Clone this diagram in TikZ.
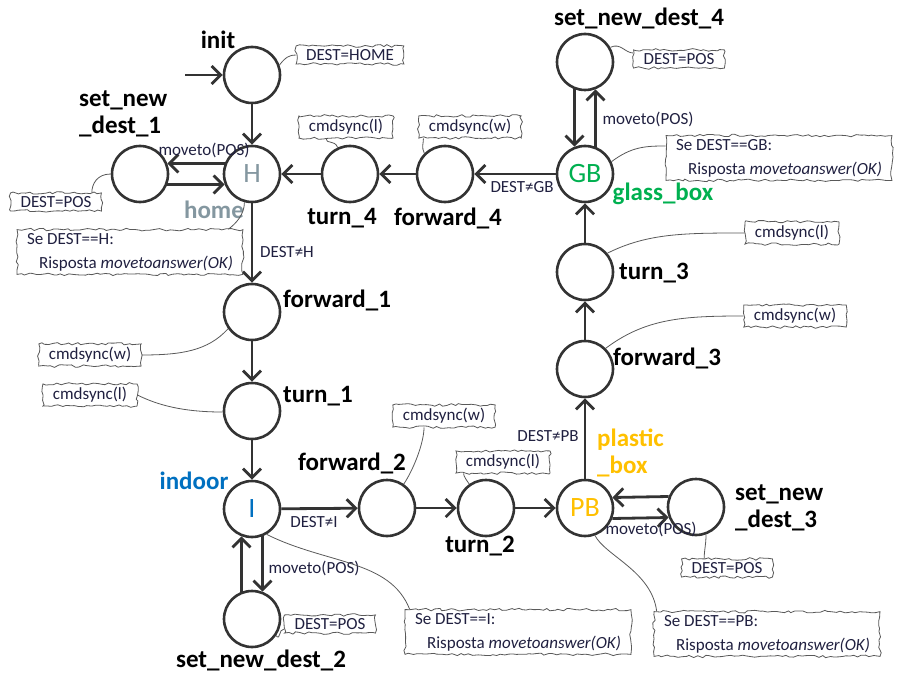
\documentclass[tikz,border=0pt]{standalone}
\usepackage{fontspec}
\setmainfont{Carlito}
\usetikzlibrary{decorations.pathmorphing, arrows.meta}

\definecolor{edgegray}{HTML}{333333}
\definecolor{notegray}{HTML}{595959}
\definecolor{notetext}{HTML}{202040}
\definecolor{homegray}{HTML}{8497A0}
\definecolor{glassgreen}{HTML}{00B050}
\definecolor{plasticorange}{HTML}{FFC000}
\definecolor{indoorblue}{HTML}{0070C0}

\begin{document}
\begin{tikzpicture}[x=1pt, y=-1pt,
    state/.style={circle, draw=edgegray, line width=2.6pt, minimum size=56pt, inner sep=0pt, fill=white, font=\fontsize{28}{28}\selectfont},
    statename/.style={font=\fontsize{25}{27}\selectfont\bfseries, align=left, inner sep=0pt},
    notebox/.style={draw=notegray, line width=0.8pt, decorate, decoration={random steps, segment length=4pt, amplitude=1.3pt}, font=\fontsize{17}{24}\selectfont, text=notetext, inner xsep=10pt, inner ysep=3.5pt, align=left, fill=white},
    notelink/.style={draw=notegray, line width=0.8pt},
    trans/.style={draw=edgegray, line width=2.8pt, -{Straight Barb[length=9pt, width=18pt]}},
    trlabel/.style={font=\fontsize{17}{20}\selectfont, text=notetext, inner sep=0pt}]
      \pgfmathsetseed{7}
      \useasboundingbox (0,0) rectangle (920,676);

      % states
      \coordinate (start) at (185,75);
      \node[state] (init) at (252,75) {};
      \node[state] (H) at (252,174) {\color{homegray}H};
      \node[state] (sd1) at (140,174) {};
      \node[state] (t4) at (350,174) {};
      \node[state] (f4) at (445,174) {};
      \node[state] (GB) at (585,174) {\color{glassgreen}GB};
      \node[state] (sd4) at (585,62) {};
      \node[state] (t3) at (585,272) {};
      \node[state] (f3) at (585,369) {};
      \node[state] (PB) at (585,508) {\color{plasticorange}PB};
      \node[state] (sd3) at (696,507) {};
      \node[state] (t2) at (486,508) {};
      \node[state] (f2) at (387,508) {};
      \node[state] (I) at (252,509) {\color{indoorblue}I};
      \node[state] (sd2) at (252,619) {};
      \node[state] (t1) at (252,411) {};
      \node[state] (f1) at (252,312) {};

      % state names
      \node[statename] (lInit) at (218,40) {init};
      \node[statename, anchor=west] (lSd1) at (79,114) {set\_new\\\_dest\_1};
      \node[statename, text=homegray] (lHome) at (214,210) {home};
      \node[statename] (lT4) at (342,218) {turn\_4};
      \node[statename] (lF4) at (448,218) {forward\_4};
      \node[statename] (lSd4) at (639,18) {set\_new\_dest\_4};
      \node[statename, text=glassgreen] (lGB) at (663,194) {glass\_box};
      \node[statename, anchor=west] (lT3) at (619,273) {turn\_3};
      \node[statename, anchor=west] (lF3) at (613,358) {forward\_3};
      \node[statename, anchor=west] (lF1) at (283,300) {forward\_1};
      \node[statename, anchor=west] (lT1) at (283,396) {turn\_1};
      \node[statename, text=indoorblue] (lI) at (194,481) {indoor};
      \node[statename] (lF2) at (352,463) {forward\_2};
      \node[statename] (lT2) at (480,546) {turn\_2};
      \node[statename, text=plasticorange, anchor=west] (lPB) at (597,453) {plastic\\\_box};
      \node[statename, anchor=west] (lSd3) at (735,508) {set\_new\\\_dest\_3};
      \node[statename] (lSd2) at (261,660) {set\_new\_dest\_2};

      % transitions
      \draw[trans] (start) -- (init);
      \draw[trans] (init) -- (H);
      \draw[trans] (H.159) -- (sd1.21);
      \draw[trans] (sd1.-21) -- (H.201);
      \draw[trans] (t4) -- (H);
      \draw[trans] (f4) -- (t4);
      \draw[trans] (GB) -- (f4);
      \draw[trans] (sd4.249) -- (GB.111);
      \draw[trans] (GB.69) -- (sd4.291);
      \draw[trans] (t3) -- (GB);
      \draw[trans] (f3) -- (t3);
      \draw[trans] (PB) -- (f3);
      \draw[trans] (sd3.159) -- (PB.21);
      \draw[trans] (PB.-21) -- (sd3.201);
      \draw[trans] (t2) -- (PB);
      \draw[trans] (f2) -- (t2);
      \draw[trans] (I) -- (f2);
      \draw[trans] (sd2.111) -- (I.249);
      \draw[trans] (I.291) -- (sd2.69);
      \draw[trans] (H) -- (f1);
      \draw[trans] (f1) -- (t1);
      \draw[trans] (t1) -- (I);

      % transition labels
      \node[trlabel] (cH1) at (204,150) {moveto(POS)};
      \node[trlabel] (cH) at (287,252) {DEST≠H};
      \node[trlabel] (cGB) at (522,187) {DEST≠GB};
      \node[trlabel] (cGB1) at (648,119) {moveto(POS)};
      \node[trlabel] (cPB) at (548,436) {DEST≠PB};
      \node[trlabel] (cI) at (314,522) {DEST≠I};
      \node[trlabel] (cI1) at (314,568) {moveto(POS)};
      \node[trlabel] (cPB1) at (651,529) {moveto(POS)};

      % notes and their links
      \node[notebox] (nHome) at (350,55) {DEST=HOME};
      \node[notebox] (nT4) at (346,127) {cmdsync(l)};
      \node[notebox] (nF4) at (470,127) {cmdsync(w)};
      \node[notebox] (nSd1) at (56,202) {DEST=POS};
      \node[notebox] (nH) at (130,252) {Se DEST==H:\\\hspace*{12pt}Risposta \textit{movetoanswer(OK)}};
      \node[notebox] (nF1) at (90,355) {cmdsync(w)};
      \node[notebox] (nT1) at (90,395) {cmdsync(l)};
      \node[notebox] (nSd4) at (679,59) {DEST=POS};
      \node[notebox] (nGB) at (779,158) {Se DEST==GB:\\\hspace*{12pt}Risposta \textit{movetoanswer(OK)}};
      \node[notebox] (nT3) at (792,233) {cmdsync(l)};
      \node[notebox] (nF3) at (795,316) {cmdsync(w)};
      \node[notebox] (nF2) at (444,416) {cmdsync(w)};
      \node[notebox] (nT2) at (503,462) {cmdsync(l)};
      \node[notebox] (nSd3) at (727,568) {DEST=POS};
      \node[notebox] (nPB) at (767,634) {Se DEST==PB:\\\hspace*{12pt}Risposta \textit{movetoanswer(OK)}};
      \node[notebox] (nI) at (518,632) {Se DEST==I:\\\hspace*{12pt}Risposta \textit{movetoanswer(OK)}};
      \node[notebox] (nSd2) at (330,624) {DEST=POS};

      \draw[notelink] (init.20) .. controls +(6,-8) and +(-6,0) .. (nHome.west);
      \draw[notelink] (t4.115) .. controls +(-3,-8) and +(0,6) .. ([xshift=-20pt]nT4.south);
      \draw[notelink] (f4.135) .. controls +(-3,-6) and +(0,5) .. ([xshift=5pt]nF4.south west);
      \draw[notelink] (sd1.180) .. controls +(-14,0) and +(0,-8) .. ([xshift=-10pt]nSd1.north east);
      \draw[notelink] (H.255) .. controls +(0,12) and +(8,-6) .. ([xshift=-15pt]nH.north east);
      \draw[notelink] (f1.215) .. controls +(-20,22) and +(40,0) .. (nF1.east);
      \draw[notelink] (t1.182) .. controls +(-40,0) and +(20,10) .. (nT1.east);
      \draw[notelink] (f2.55) .. controls +(10,-15) and +(0,15) .. ([xshift=-20pt]nF2.south);
      \draw[notelink] (t2.125) .. controls +(-2,-3) and +(0,3) .. ([xshift=8pt]nT2.south west);
      \draw[notelink] (sd2.-35) .. controls +(5,5) and +(-6,0) .. ([yshift=-5pt]nSd2.west);
      \draw[notelink] (I.300) .. controls +(60,30) and +(-20,-50) .. ([xshift=5pt]nI.north west);
      \draw[notelink] (PB.290) .. controls +(10,20) and +(-5,-40) .. ([xshift=3pt]nPB.north west);
      \draw[notelink] (sd3.290) .. controls +(0,10) and +(0,-8) .. ([xshift=23pt]nSd3.north west);
      \draw[notelink] (sd4.30) .. controls +(10,-5) and +(-8,0) .. ([yshift=6pt]nSd4.west);
      \draw[notelink] (GB.25) .. controls +(20,-15) and +(-20,0) .. ([yshift=12pt]nGB.west);
      \draw[notelink] (t3.40) .. controls +(40,-20) and +(-60,0) .. (nT3.west);
      \draw[notelink] (f3.45) .. controls +(40,-30) and +(-60,0) .. (nF3.west);
\end{tikzpicture}
\end{document}
